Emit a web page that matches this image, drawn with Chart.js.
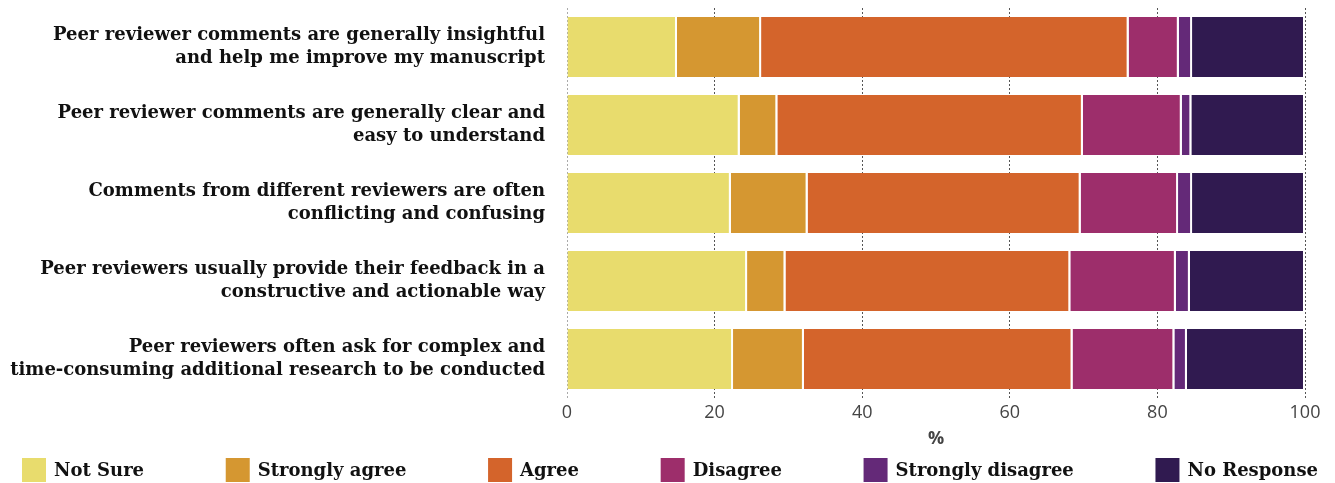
<!DOCTYPE html>
<html>
<head>
<meta charset="utf-8">
<script src="https://cdn.jsdelivr.net/npm/chart.js@4.4.1/dist/chart.umd.min.js"></script>
<style>
	html, body { margin: 0; padding: 0; background: #fff; }
	#wrap { width: 1335px; height: 483px; }
</style>
</head>
<body>
<div id="wrap"><canvas id="bar-chartcanvas"></canvas></div>
<script>
// statements shown on the y axis (each one split into two lines)
var statements = [
	["Peer reviewer comments are generally insightful", "and help me improve my manuscript"],
	["Peer reviewer comments are generally clear and", "easy to understand"],
	["Comments from different reviewers are often", "conflicting and confusing"],
	["Peer reviewers usually provide their feedback in a", "constructive and actionable way"],
	["Peer reviewers often ask for complex and", "time-consuming additional research to be conducted"]
];

// answer shares in %, one value per statement
var notSure          = [14.9, 23.4, 22.2, 24.4, 22.5];
var stronglyAgree    = [11.4, 5.1, 10.4, 5.2, 9.6];
var agree            = [49.8, 41.4, 37.0, 38.6, 36.4];
var disagree         = [6.8, 13.4, 13.2, 14.3, 13.8];
var stronglyDisagree = [1.8, 1.3, 1.9, 1.9, 1.7];
var noResponse       = [15.3, 15.4, 15.3, 15.6, 16.0];

var xTicks = [0, 20, 40, 60, 80, 100];

var serif = "'DejaVu Serif', serif";
var sans = "'Open Sans', 'Noto Sans', sans-serif";

function set(label, values, colour) {
	return {
		label : label,
		data : values,
		backgroundColor : colour,
		borderColor : "#ffffff",
		borderWidth : { top : 0, bottom : 0, left : 0, right : 2 },
		borderSkipped : false,
		barPercentage : 0.77,
		categoryPercentage : 1
	};
}

// legend spread over the whole width under the axis
var spreadLegend = {
	id : "spreadLegend",
	afterDraw : function(chart) {
		var ctx = chart.ctx;
		var sets = chart.data.datasets;
		var box = 24, gap = 8, left = 22, right = 1318, y = 470;
		ctx.save();
		ctx.font = "bold 18px " + serif;
		var widths = sets.map(function(d) { return box + gap + ctx.measureText(d.label).width; });
		var total = widths.reduce(function(a, b) { return a + b; }, 0);
		var space = (right - left - total) / (sets.length - 1);
		var x = left;
		ctx.textBaseline = "middle";
		ctx.textAlign = "left";
		for (var i = 0; i < sets.length; i++) {
			ctx.fillStyle = sets[i].backgroundColor;
			ctx.fillRect(x, y - box / 2, box, box);
			ctx.fillStyle = "#111";
			ctx.fillText(sets[i].label, x + box + gap, y + 1);
			x += widths[i] + space;
		}
		ctx.restore();
	}
};

var data = {
	labels : statements,
	datasets : [
		set("Not Sure", notSure, "#e8dc6d"),
		set("Strongly agree", stronglyAgree, "#d59731"),
		set("Agree", agree, "#d4642b"),
		set("Disagree", disagree, "#9d2e6b"),
		set("Strongly disagree", stronglyDisagree, "#642978"),
		set("No Response", noResponse, "#301a50")
	]
};

var options = {
	indexAxis : "y",
	responsive : true,
	maintainAspectRatio : false,
	animation : false,
	layout : { padding : { top : 8, right : 30, left : 0, bottom : 33 } },
	scales : {
		x : {
			stacked : true,
			min : 0,
			max : 100,
			afterBuildTicks : function(scale) {
				scale.ticks = xTicks.map(function(v) { return { value : v }; });
			},
			afterFit : function(scale) { scale.height = 52; },
			grid : {
				// the zero line is lighter than the others
				color : function(c) { return c.tick && c.tick.value === 0 ? "#aaa" : "#555"; },
				drawTicks : false,
				lineWidth : 1
			},
			border : { display : false, dash : [2, 2] },
			ticks : {
				padding : 4,
				color : "#444",
				font : { family : sans, size : 18 }
			},
			title : {
				display : true,
				text : "%",
				color : "#444",
				padding : { top : 0, bottom : 0 },
				font : { family : sans, size : 18, weight : "bold" }
			}
		},
		y : {
			stacked : true,
			grid : { display : false },
			border : { display : false },
			afterFit : function(scale) {
				scale.width = 567;
				scale.paddingTop = 0;
				scale.paddingBottom = 0;
			},
			ticks : {
				autoSkip : false,
				padding : 14,
				color : "#111",
				font : { family : serif, size : 18, weight : "bold", lineHeight : 1.28 }
			}
		}
	},
	plugins : {
		legend : { display : false },
		tooltip : { enabled : false }
	}
};

var chart = new Chart(document.getElementById("bar-chartcanvas"), {
	type : "bar",
	data : data,
	options : options,
	plugins : [spreadLegend]
});
</script>
</body>
</html>
